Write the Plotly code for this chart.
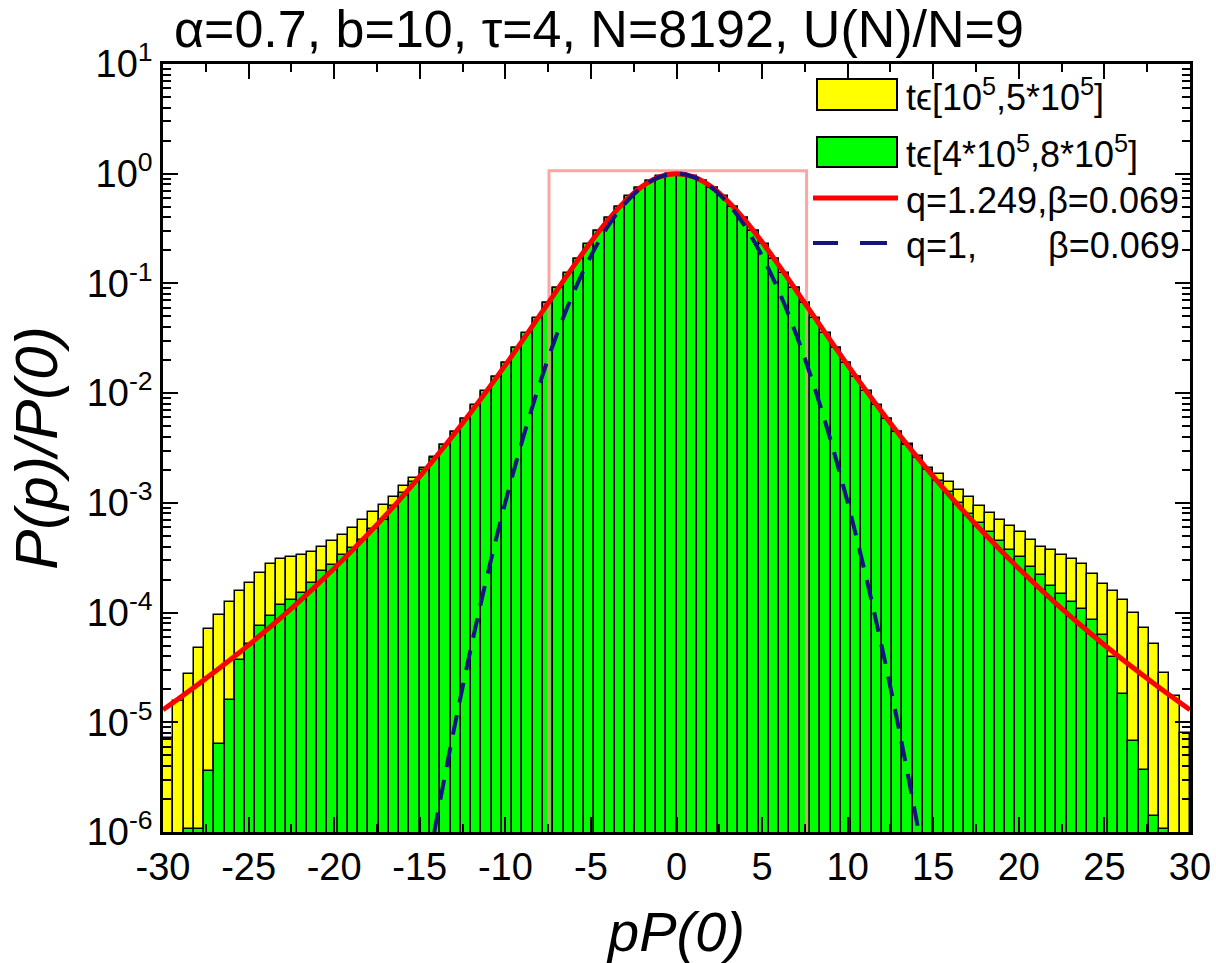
import plotly.graph_objects as go

# ---------------- data ----------------
bin_width = 0.6
bin_start = -30.0
n_bins = 100
bin_centers = [round(bin_start + bin_width * (i + 0.5), 2) for i in range(n_bins)]

# t in [1e5, 5e5]  (yellow histogram), normalised P(p)/P(0)
yellow_vals = [
    7.26e-6, 1.56e-5, 2.73e-5, 4.71e-5, 7.11e-5, 9.6e-5, 1.24e-4, 1.58e-4, 1.86e-4, 2.30e-4,
    2.79e-4, 3.10e-4, 3.21e-4, 3.37e-4, 3.53e-4, 3.95e-4, 4.45e-4, 5.05e-4, 5.89e-4, 7.0e-4,
    8.17e-4, 9.6e-4, 1.14e-3, 1.41e-3, 1.70e-3,
    0.00206, 0.00264, 0.00340, 0.00440, 0.00580, 0.00770, 0.0103, 0.0139, 0.0188, 0.0256,
    0.0349, 0.0479, 0.0657, 0.0900, 0.123, 0.167, 0.225, 0.299, 0.391, 0.499,
    0.619, 0.741, 0.853, 0.940, 0.988,
    0.988, 0.940, 0.853, 0.741, 0.619, 0.499, 0.391, 0.299, 0.225, 0.167,
    0.123, 0.0900, 0.0657, 0.0479, 0.0349, 0.0256, 0.0188, 0.0139, 0.0103, 0.00770,
    0.00580, 0.00445, 0.00345, 0.00268, 0.00210,
    1.85e-3, 1.55e-3, 1.32e-3, 1.12e-3, 9.4e-4, 8.13e-4, 7.0e-4, 6.1e-4, 5.37e-4, 4.61e-4,
    3.93e-4, 3.74e-4, 3.37e-4, 3.10e-4, 2.77e-4, 2.26e-4, 1.84e-4, 1.56e-4, 1.29e-4, 9.9e-5,
    7.26e-5, 5.22e-5, 2.83e-5, 1.73e-5, 8.05e-6,
]

# t in [4e5, 8e5]  (green histogram)
green_vals = [
    None, None, 1.07e-6, 1.07e-6, 3.61e-6, 6.4e-6, 1.58e-5, 3.66e-5, 5.22e-5, 7.5e-5,
    9.25e-5, 1.18e-4, 1.31e-4, 1.51e-4, 1.86e-4, 2.37e-4, 2.73e-4, 3.37e-4, 3.87e-4, 4.61e-4,
    5.75e-4, 7.0e-4, 9.33e-4, 1.23e-3, 1.56e-3,
    0.00198, 0.00257, 0.00336, 0.00441, 0.00584, 0.00777, 0.0104, 0.0140, 0.0190, 0.0258,
    0.0352, 0.0483, 0.0662, 0.0907, 0.124, 0.168, 0.227, 0.301, 0.394, 0.502,
    0.623, 0.746, 0.859, 0.946, 0.994,
    0.994, 0.946, 0.859, 0.746, 0.623, 0.502, 0.394, 0.301, 0.227, 0.168,
    0.124, 0.0907, 0.0662, 0.0483, 0.0352, 0.0258, 0.0190, 0.0140, 0.0104, 0.00777,
    0.00584, 0.00441, 0.00336, 0.00257, 0.00198,
    1.58e-3, 1.26e-3, 1.0e-3, 7.9e-4, 6.6e-4, 5.4e-4, 4.5e-4, 3.7e-4, 3.2e-4, 2.6e-4,
    2.2e-4, 1.74e-4, 1.48e-4, 1.26e-4, 1.07e-4, 8.5e-5, 6.3e-5, 3.9e-5, 1.82e-5, 6.8e-6,
    3.7e-6, 1.41e-6, 1.07e-6, None, None,
]

# q-exponential fit curve (red)
red_x = [-30, -28, -26, -24, -22, -20, -18, -16, -14, -12, -10, -8, -7, -6, -5, -4, -3, -2, -1, 0,
         1, 2, 3, 4, 5, 6, 7, 8, 10, 12, 14, 16, 18, 20, 22, 24, 26, 28, 30]
red_y = [1.30e-5, 2.19e-5, 3.79e-5, 6.83e-5, 1.28e-4, 2.52e-4, 5.22e-4, 1.146e-3, 2.68e-3, 6.73e-3,
         0.0180, 0.0508, 0.0860, 0.1446, 0.238, 0.377, 0.561, 0.766, 0.934, 1.0,
         0.934, 0.766, 0.561, 0.377, 0.238, 0.1446, 0.0860, 0.0508, 0.0180, 6.73e-3,
         2.68e-3, 1.146e-3, 5.22e-4, 2.52e-4, 1.28e-4, 6.83e-5, 3.79e-5, 2.19e-5, 1.30e-5]

# Gaussian (q=1) curve (blue dashed)
blue_x = [-14.15, -14, -13, -12, -11, -10, -9, -8, -7, -6, -5, -4, -3, -2, -1, 0,
          1, 2, 3, 4, 5, 6, 7, 8, 9, 10, 11, 12, 13, 14, 14.15]
blue_y = [1.0e-6, 1.34e-6, 8.62e-6, 4.84e-5, 2.37e-4, 1.01e-3, 3.74e-3, 0.0121, 0.034, 0.0834,
          0.178, 0.332, 0.537, 0.759, 0.933, 1.0,
          0.933, 0.759, 0.537, 0.332, 0.178, 0.0834, 0.034, 0.0121, 3.74e-3, 1.01e-3,
          2.37e-4, 4.84e-5, 8.62e-6, 1.34e-6, 1.0e-6]

# pink frame around the central region
box_x = [-7.45, -7.45, 7.6, 7.6]
box_y = [1.0e-6, 1.065, 1.065, 1.0e-6]

x_tick_vals = [-30, -25, -20, -15, -10, -5, 0, 5, 10, 15, 20, 25, 30]
x_tick_text = ["-30", "-25", "-20", "-15", "-10", "-5", "0", "5", "10", "15", "20", "25", "30"]
y_tick_vals = [1e-6, 1e-5, 1e-4, 1e-3, 1e-2, 1e-1, 1, 10]
y_tick_text = ["10<sup>-6</sup>", "10<sup>-5</sup>", "10<sup>-4</sup>", "10<sup>-3</sup>",
               "10<sup>-2</sup>", "10<sup>-1</sup>", "10<sup>0</sup>", "10<sup>1</sup>"]

title_text = "\u03b1=0.7, b=10, \u03c4=4, N=8192, U(N)/N=9"
legend_yellow = "t\u03f5[10<sup>5</sup>,5*10<sup>5</sup>]"
legend_green = "t\u03f5[4*10<sup>5</sup>,8*10<sup>5</sup>]"
legend_red = "q=1.249,\u03b2=0.069"
legend_blue_a = "q=1,"
legend_blue_b = "\u03b2=0.069"

# ---------------- styling ----------------
FONT = "Liberation Sans, Arial, Helvetica, sans-serif"
YELLOW = "#ffff00"
GREEN = "#00ff00"
RED = "#ff0000"
NAVY = "#141480"

fig = go.Figure()

fig.add_trace(go.Bar(x=bin_centers, y=yellow_vals, width=bin_width, name="yellow",
                     marker=dict(color=YELLOW, line=dict(color="black", width=1.5)),
                     showlegend=False))
fig.add_trace(go.Bar(x=bin_centers, y=green_vals, width=bin_width, name="green",
                     marker=dict(color=GREEN, line=dict(color="black", width=1.5)),
                     showlegend=False))
fig.add_trace(go.Scatter(x=box_x, y=box_y, mode="lines",
                         line=dict(color="rgba(255,140,140,0.8)", width=3),
                         showlegend=False, hoverinfo="skip"))
fig.add_trace(go.Scatter(x=red_x, y=red_y, mode="lines",
                         line=dict(color=RED, width=5, shape="spline", smoothing=1.0),
                         showlegend=False))
fig.add_trace(go.Scatter(x=blue_x, y=blue_y, mode="lines",
                         line=dict(color=NAVY, width=4, shape="spline", smoothing=1.0,
                                   dash="20px,13px"),
                         showlegend=False))

L, R, T, B = 163, 26, 64, 131
W, H = 1216, 963
pw, ph = W - L - R, H - T - B


def px2paper_x(px):
    return (px - L) / pw


def px2paper_y(py):
    return (H - B - py) / ph


shapes = []
annotations = []

# custom legend (top right)
sw_x0, sw_x1 = px2paper_x(817), px2paper_x(897)
shapes.append(dict(type="rect", xref="paper", yref="paper", x0=sw_x0, x1=sw_x1,
                   y0=px2paper_y(110), y1=px2paper_y(79),
                   fillcolor=YELLOW, line=dict(color="black", width=2)))
shapes.append(dict(type="rect", xref="paper", yref="paper", x0=sw_x0, x1=sw_x1,
                   y0=px2paper_y(167), y1=px2paper_y(137),
                   fillcolor=GREEN, line=dict(color="black", width=2)))
shapes.append(dict(type="line", xref="paper", yref="paper",
                   x0=px2paper_x(813), x1=px2paper_x(898),
                   y0=px2paper_y(198), y1=px2paper_y(198),
                   line=dict(color=RED, width=5)))
shapes.append(dict(type="line", xref="paper", yref="paper",
                   x0=px2paper_x(813), x1=px2paper_x(838),
                   y0=px2paper_y(243), y1=px2paper_y(243),
                   line=dict(color=NAVY, width=4)))
shapes.append(dict(type="line", xref="paper", yref="paper",
                   x0=px2paper_x(860), x1=px2paper_x(887),
                   y0=px2paper_y(243), y1=px2paper_y(243),
                   line=dict(color=NAVY, width=4)))

leg_font = dict(family=FONT, size=36, color="black")
for txt, py, xpx in [(legend_yellow, 95, 904), (legend_green, 152, 904),
                     (legend_red, 200, 904), (legend_blue_a, 245, 904),
                     (legend_blue_b, 245, 1046)]:
    annotations.append(dict(text=txt, xref="paper", yref="paper",
                            x=px2paper_x(xpx), y=px2paper_y(py),
                            xanchor="left", yanchor="middle", showarrow=False,
                            font=leg_font))

# title
annotations.append(dict(text=title_text, xref="paper", yref="paper",
                        x=px2paper_x(172), y=px2paper_y(29),
                        xanchor="left", yanchor="middle", showarrow=False,
                        font=dict(family=FONT, size=52, color="black")))

axis_common = dict(showline=True, linecolor="black", linewidth=2.5, mirror="ticks",
                   ticks="inside", tickcolor="black", tickwidth=2, ticklen=15,
                   showgrid=False, zeroline=False, automargin=False,
                   tickfont=dict(family=FONT, size=38, color="black"))

fig.update_layout(
    width=W, height=H,
    margin=dict(l=L, r=R, t=T, b=B),
    paper_bgcolor="white", plot_bgcolor="white",
    barmode="overlay", bargap=0,
    shapes=shapes, annotations=annotations,
    showlegend=False,
    xaxis=dict(range=[-30, 30], tickmode="array", tickvals=x_tick_vals, ticktext=x_tick_text,
               minor=dict(ticks="inside", ticklen=8, tickwidth=1.5, tickcolor="black",
                          dtick=2.5, tick0=0),
               title=dict(text="<i>pP(0)</i>", standoff=26,
                          font=dict(family=FONT, size=56, color="black")),
               **axis_common),
    yaxis=dict(type="log", range=[-6, 1], tickmode="array", tickvals=y_tick_vals,
               ticktext=y_tick_text,
               minor=dict(ticks="inside", ticklen=8, tickwidth=1.5, tickcolor="black",
                          dtick="D1"),
               title=dict(text="<i>P(p)/P(0)</i>", standoff=10,
                          font=dict(family=FONT, size=60, color="black")),
               **axis_common),
)

fig.write_html("out.html")
